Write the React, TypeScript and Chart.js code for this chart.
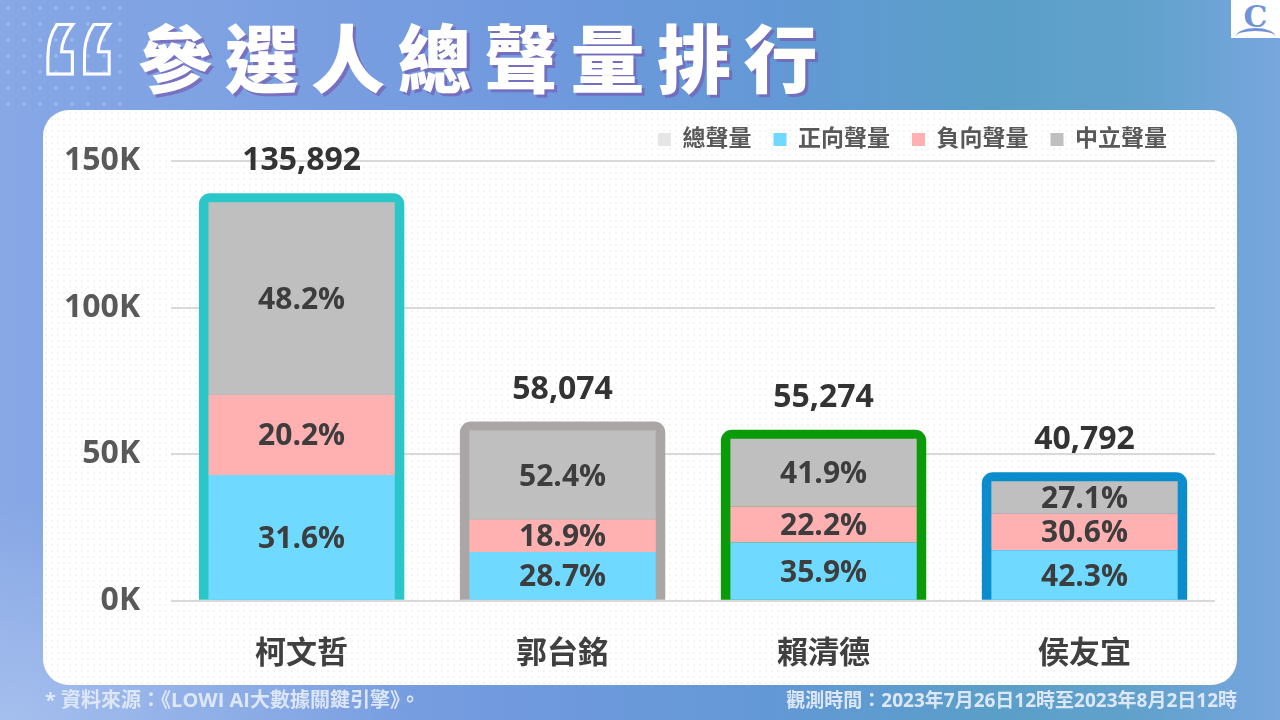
import React, { useEffect, useRef } from 'react';
import { Chart, registerables } from 'chart.js';

Chart.register(...registerables);

// ---------- data ----------
const categories = ['柯文哲', '郭台銘', '賴清德', '侯友宜'];
const seriesNames = ['總聲量', '正向聲量', '負向聲量', '中立聲量'];
const totals = [135892, 58074, 55274, 40792];
const positive = [42942, 16667, 19843, 17255];
const negative = [27450, 10976, 12271, 12482];
const neutral = [65500, 30431, 23160, 11055];
const totalLabels = ['135,892', '58,074', '55,274', '40,792'];
const positivePct = ['31.6%', '28.7%', '35.9%', '42.3%'];
const negativePct = ['20.2%', '18.9%', '22.2%', '30.6%'];
const neutralPct = ['48.2%', '52.4%', '41.9%', '27.1%'];
const yTickValues = [0, 50000, 100000, 150000];
const yTickLabels = ['0K', '50K', '100K', '150K'];

// ---------- styles ----------
const outlineColors = ['#2bc6c7', '#aba6a6', '#0a9a0a', '#0a8ccd'];
const legendColors = ['#e6e6e6', '#6fd9ff', '#ffb1b1', '#bfbfbf'];
const FONT = '"Open Sans", "Noto Sans CJK TC", sans-serif';
const BORDER = 9;
const LEGEND_SHIFT = 26;
const CANVAS_LEFT = 33;
const CANVAS_TOP = 106;
const CANVAS_W = 1237 - CANVAS_LEFT;
const CANVAS_H = 602;

const decorPlugin = {
  id: 'decor',
  afterLayout(chart: any) {
    const lg = chart.legend;
    if (lg) {
      lg.right -= LEGEND_SHIFT;
    }
  },
  beforeDatasetsDraw(chart: any) {
    const ctx = chart.ctx;
    const meta = chart.getDatasetMeta(0);
    meta.data.forEach((el: any, i: number) => {
      const { x, y, base, width } = el.getProps(['x', 'y', 'base', 'width'], true);
      const left = x - width / 2;
      const right = x + width / 2;
      const top = y - BORDER;
      const r = 11;
      ctx.save();
      ctx.fillStyle = outlineColors[i];
      ctx.beginPath();
      ctx.moveTo(left, base);
      ctx.lineTo(left, top + r);
      ctx.arcTo(left, top, left + r, top, r);
      ctx.lineTo(right - r, top);
      ctx.arcTo(right, top, right, top + r, r);
      ctx.lineTo(right, base);
      ctx.closePath();
      ctx.fill();
      ctx.restore();
    });
  },
  afterDatasetsDraw(chart: any) {
    const ctx = chart.ctx;
    ctx.save();
    ctx.font = `bold 30px ${FONT}`;
    ctx.textAlign = 'center';
    ctx.textBaseline = 'middle';
    ctx.fillStyle = '#3d3d3d';
    const pctSets = [null, positivePct, negativePct, neutralPct];
    for (let d = 1; d <= 3; d++) {
      chart.getDatasetMeta(d).data.forEach((el: any, i: number) => {
        const { x, y, base } = el.getProps(['x', 'y', 'base'], true);
        ctx.fillText((pctSets[d] as string[])[i], x, (y + base) / 2 + 2);
      });
    }
    ctx.font = `bold 32px ${FONT}`;
    ctx.fillStyle = '#333333';
    chart.getDatasetMeta(0).data.forEach((el: any, i: number) => {
      const { x, y } = el.getProps(['x', 'y'], true);
      ctx.fillText(totalLabels[i], x, y - 41);
    });
    ctx.restore();
  },
};

function BarChart() {
  const ref = useRef<HTMLCanvasElement | null>(null);
  useEffect(() => {
    if (!ref.current) return;
    const common = { borderWidth: 0, categoryPercentage: 1, grouped: false };
    const chart = new Chart(ref.current, {
      type: 'bar',
      data: {
        labels: categories,
        datasets: [
          {
            ...common,
            label: seriesNames[0],
            data: totals,
            stack: 'total',
            backgroundColor: 'rgba(0,0,0,0)',
            barPercentage: 0.787,
          },
          {
            ...common,
            label: seriesNames[1],
            data: positive,
            stack: 'seg',
            backgroundColor: legendColors[1],
            barPercentage: 0.714,
          },
          {
            ...common,
            label: seriesNames[2],
            data: negative,
            stack: 'seg',
            backgroundColor: legendColors[2],
            barPercentage: 0.714,
          },
          {
            ...common,
            label: seriesNames[3],
            data: neutral,
            stack: 'seg',
            backgroundColor: legendColors[3],
            barPercentage: 0.714,
          },
        ] as any,
      },
      options: {
        animation: false,
        responsive: false,
        devicePixelRatio: 1,
        layout: { padding: { left: 0, right: 22, top: 0, bottom: 0 } },
        plugins: {
          tooltip: { enabled: false },
          legend: {
            position: 'top',
            align: 'end',
            labels: {
              boxWidth: 13,
              boxHeight: 13,
              padding: 22,
              font: { family: FONT, size: 23, weight: 'bold' },
              color: '#595959',
              generateLabels: () =>
                seriesNames.map((name, i) => ({
                  text: name,
                  fillStyle: legendColors[i],
                  strokeStyle: legendColors[i],
                  lineWidth: 0,
                  hidden: false,
                  datasetIndex: i,
                  fontColor: '#595959',
                })),
            },
          },
        },
        scales: {
          x: {
            stacked: true,
            grid: { display: false, drawTicks: false },
            border: { display: false },
            ticks: {
              padding: 35,
              color: '#404040',
              font: { family: FONT, size: 31, weight: 'bold' },
            },
          },
          y: {
            stacked: true,
            min: 0,
            max: 150000,
            afterBuildTicks: (scale: any) => {
              scale.ticks = yTickValues.map((v) => ({ value: v }));
            },
            grid: { color: '#d9d9d9', lineWidth: 2, drawTicks: false },
            border: { display: false },
            ticks: {
              padding: 31,
              color: '#595959',
              font: { family: FONT, size: 32, weight: 'bold' },
              callback: (_v: any, i: number) => yTickLabels[i],
            },
          },
        },
      },
      plugins: [decorPlugin],
    } as any);
    return () => chart.destroy();
  }, []);
  return <canvas ref={ref} width={CANVAS_W} height={CANVAS_H} style={{ display: 'block' }} />;
}

export default function App() {
  return (
    <div
      style={{
        position: 'fixed',
        left: 0,
        top: 0,
        width: 1280,
        height: 720,
        overflow: 'hidden',
        background:
          'linear-gradient(90deg, #87a7e5 0%, #719ade 40%, #6398d6 60%, #5a9fc8 78%, #62a2cd 90%, #78a6de 100%)',
        fontFamily: FONT,
      }}
    >
      <div
        style={{
          position: 'absolute',
          left: 0,
          top: 0,
          width: 1280,
          height: 720,
          background:
            'radial-gradient(ellipse 420px 220px at 0% 100%, rgba(175,198,240,0.75), rgba(175,198,240,0) 100%)',
        }}
      />
      <div
        style={{
          position: 'absolute',
          left: 0,
          top: 0,
          width: 125,
          height: 110,
          backgroundImage: 'radial-gradient(rgba(255,255,255,0.22) 1.5px, transparent 1.8px)',
          backgroundSize: '16px 16px',
        }}
      />
      {/* quote mark */}
      <div
        style={{
          position: 'absolute',
          left: 35,
          top: -3,
          fontFamily: '"Liberation Sans", sans-serif',
          fontWeight: 'bold',
          fontSize: 175,
          lineHeight: 1,
          color: 'transparent',
          WebkitTextStroke: '3px #ffffff',
        }}
      >
        “
      </div>
      {/* title */}
      <div
        style={{
          position: 'absolute',
          left: 138,
          top: 18,
          fontFamily: '"Noto Sans CJK TC", sans-serif',
          fontWeight: 900,
          fontSize: 74,
          lineHeight: 1,
          letterSpacing: 12.5,
          color: '#ffffff',
          textShadow: '3px 3px 0 rgba(118,92,178,0.7)',
          whiteSpace: 'nowrap',
        }}
      >
        參選人總聲量排行
      </div>
      {/* logo */}
      <div
        style={{
          position: 'absolute',
          left: 1231,
          top: 0,
          width: 49,
          height: 38,
          background: '#ffffff',
        }}
      >
        <div
          style={{
            position: 'absolute',
            left: 0,
            width: 49,
            top: 1,
            textAlign: 'center',
            fontFamily: '"DejaVu Serif", serif',
            fontWeight: 'bold',
            fontSize: 30,
            lineHeight: '32px',
            color: '#7393d8',
          }}
        >
          C
        </div>
        <div
          style={{
            position: 'absolute',
            left: 5,
            top: 28,
            width: 39,
            height: 14,
            borderTop: '3px solid #7393d8',
            borderRadius: '50% 50% 0 0',
          }}
        />
      </div>
      {/* panel */}
      <div
        style={{
          position: 'absolute',
          left: 43,
          top: 110,
          width: 1194,
          height: 575,
          borderRadius: 26,
          background: '#ffffff',
          backgroundImage: 'radial-gradient(rgba(0,0,0,0.045) 1px, transparent 1.3px)',
          backgroundSize: '6px 6px',
        }}
      />
      <div style={{ position: 'absolute', left: CANVAS_LEFT, top: CANVAS_TOP }}>
        <BarChart />
      </div>
      {/* footers */}
      <div
        style={{
          position: 'absolute',
          left: 45,
          top: 688,
          fontSize: 20,
          fontWeight: 'bold',
          lineHeight: '24px',
          color: '#dde7f7',
          whiteSpace: 'nowrap',
        }}
      >
        * 資料來源：《LOWI AI大數據關鍵引擎》。
      </div>
      <div
        style={{
          position: 'absolute',
          right: 43,
          top: 688,
          fontSize: 19,
          fontWeight: 'bold',
          lineHeight: '24px',
          color: '#dde7f7',
          whiteSpace: 'nowrap',
        }}
      >
        觀測時間：2023年7月26日12時至2023年8月2日12時
      </div>
    </div>
  );
}
